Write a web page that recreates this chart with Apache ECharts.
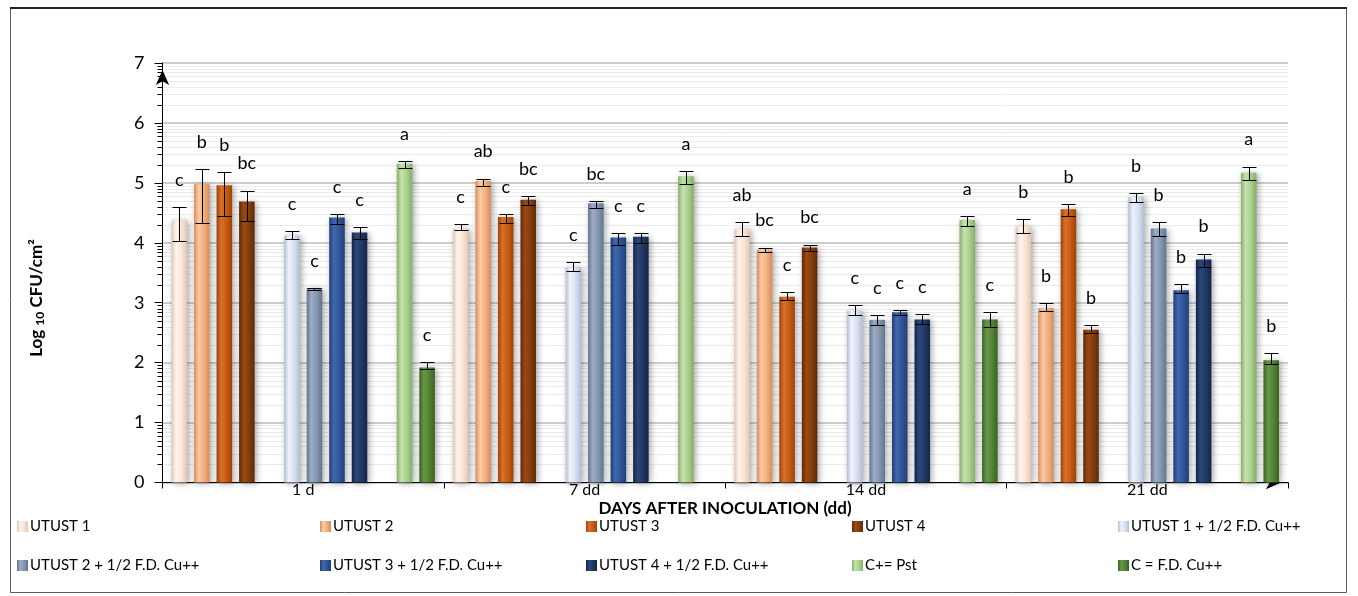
<!DOCTYPE html>
<html>
<head>
<meta charset="utf-8">
<script src="https://cdn.jsdelivr.net/npm/echarts@6/dist/echarts.min.js"></script>
<style>
  html, body { margin: 0; padding: 0; background: #ffffff; }
  #chart { width: 1358px; height: 596px; }
</style>
</head>
<body>
<div id="chart"></div>
<script>
// ---- Data: Log10 CFU/cm2 per treatment and sampling day ----
const categories = ['1 d', '7 dd', '14 dd', '21 dd'];

const seriesNames = [
  'UTUST 1', 'UTUST 2', 'UTUST 3', 'UTUST 4',
  'UTUST 1 + 1/2 F.D. Cu++', 'UTUST 2 + 1/2 F.D. Cu++',
  'UTUST 3 + 1/2 F.D. Cu++', 'UTUST 4 + 1/2 F.D. Cu++',
  'C+= Pst', 'C = F.D. Cu++'
];

// mean values
const utust1   = [4.37, 4.24, 4.23, 4.27];
const utust2   = [4.98, 5.03, 3.88, 2.91];
const utust3   = [4.96, 4.43, 3.10, 4.56];
const utust4   = [4.69, 4.72, 3.92, 2.55];
const utust1Cu = [4.12, 3.59, 2.86, 4.76];
const utust2Cu = [3.24, 4.66, 2.71, 4.24];
const utust3Cu = [4.42, 4.09, 2.84, 3.21];
const utust4Cu = [4.17, 4.10, 2.72, 3.72];
const cPos     = [5.32, 5.11, 4.38, 5.17];
const cCu      = [1.92, 0.00, 2.72, 2.04];

// error bar lower / upper bounds
const utust1Lo   = [4.03, 4.21, 4.12, 4.16], utust1Hi   = [4.59, 4.31, 4.34, 4.39];
const utust2Lo   = [4.33, 4.94, 3.85, 2.86], utust2Hi   = [5.23, 5.07, 3.92, 2.99];
const utust3Lo   = [4.45, 4.33, 3.05, 4.45], utust3Hi   = [5.18, 4.48, 3.18, 4.64];
const utust4Lo   = [4.36, 4.63, 3.86, 2.50], utust4Hi   = [4.87, 4.78, 3.97, 2.62];
const utust1CuLo = [4.07, 3.53, 2.80, 4.68], utust1CuHi = [4.20, 3.68, 2.96, 4.83];
const utust2CuLo = [3.22, 4.58, 2.63, 4.12], utust2CuHi = [3.25, 4.70, 2.80, 4.34];
const utust3CuLo = [4.32, 3.97, 2.80, 3.17], utust3CuHi = [4.48, 4.16, 2.88, 3.31];
const utust4CuLo = [4.06, 4.00, 2.65, 3.60], utust4CuHi = [4.26, 4.16, 2.81, 3.82];
const cPosLo     = [5.25, 4.98, 4.28, 5.05], cPosHi     = [5.36, 5.19, 4.45, 5.27];
const cCuLo      = [1.90, null, 2.60, 1.98], cCuHi      = [2.01, null, 2.84, 2.16];

// significance letters
const utust1Letters   = ['c', 'c', 'ab', 'b'];
const utust2Letters   = ['b', 'ab', 'bc', 'b'];
const utust3Letters   = ['b', 'c', 'c', 'b'];
const utust4Letters   = ['bc', 'bc', 'bc', 'b'];
const utust1CuLetters = ['c', 'c', 'c', 'b'];
const utust2CuLetters = ['c', 'bc', 'c', 'b'];
const utust3CuLetters = ['c', 'c', 'c', 'b'];
const utust4CuLetters = ['c', 'c', 'c', 'b'];
const cPosLetters     = ['a', 'a', 'a', 'a'];
const cCuLetters      = ['c', '', 'c', 'b'];

const yTicks = [0, 1, 2, 3, 4, 5, 6, 7];

// ---- Styling ----
const FONT = 'Lato, "Open Sans", "DejaVu Sans", sans-serif';
// [edge, highlight, base]
const palette = [
  ['#e2c6b3', '#fff4ec', '#fbe3d3'],
  ['#d38e5e', '#fbcaa4', '#f2ae7e'],
  ['#9c430a', '#d9702a', '#c55a11'],
  ['#5e2a07', '#9a4a14', '#843c0c'],
  ['#b3bfd6', '#eef3fb', '#d6e0f2'],
  ['#627490', '#9cadc4', '#8396af'],
  ['#1f3f75', '#4069ad', '#2f5597'],
  ['#122647', '#2b4878', '#1f3864'],
  ['#86ad6b', '#c4e3ae', '#a8d08c'],
  ['#3b6122', '#679846', '#548235']
];

const values  = [utust1, utust2, utust3, utust4, utust1Cu, utust2Cu, utust3Cu, utust4Cu, cPos, cCu];
const lows    = [utust1Lo, utust2Lo, utust3Lo, utust4Lo, utust1CuLo, utust2CuLo, utust3CuLo, utust4CuLo, cPosLo, cCuLo];
const highs   = [utust1Hi, utust2Hi, utust3Hi, utust4Hi, utust1CuHi, utust2CuHi, utust3CuHi, utust4CuHi, cPosHi, cCuHi];
const letters = [utust1Letters, utust2Letters, utust3Letters, utust4Letters, utust1CuLetters,
                 utust2CuLetters, utust3CuLetters, utust4CuLetters, cPosLetters, cCuLetters];

// slot of each treatment inside a day group (slots 4 and 9 are spacers)
const slots = [0, 1, 2, 3, 5, 6, 7, 8, 10, 11];
const SLOTS = 12;
const CAT_GAP = 0.064;
const BAR_GAP = 0.45;

function barGradient(p) {
  return new echarts.graphic.LinearGradient(0, 0, 1, 0, [
    { offset: 0, color: p[0] },
    { offset: 0.3, color: p[1] },
    { offset: 0.65, color: p[2] },
    { offset: 1, color: p[0] }
  ]);
}

const series = [];
let treatment = 0;
for (let s = 0; s < SLOTS; s++) {
  if (slots.indexOf(s) < 0) {
    series.push({ type: 'bar', name: '', data: categories.map(() => '-'), silent: true });
    continue;
  }
  const i = treatment++;
  series.push({
    type: 'bar',
    name: seriesNames[i],
    data: values[i],
    z: 3,
    itemStyle: {
      color: barGradient(palette[i]),
      shadowBlur: 6,
      shadowOffsetX: 2,
      shadowOffsetY: 1,
      shadowColor: 'rgba(0,0,0,0.35)'
    }
  });
}

// error bars and letters
const errItems = [];
for (let i = 0; i < values.length; i++) {
  for (let c = 0; c < categories.length; c++) {
    errItems.push({ cat: c, slot: slots[i], lo: lows[i][c], hi: highs[i][c], top: highs[i][c] != null ? highs[i][c] : values[i][c], letter: letters[i][c] });
  }
}

series.push({
  type: 'custom',
  name: 'errors',
  z: 10,
  silent: true,
  data: errItems.map(d => [d.cat, d.top]),
  renderItem: function (params, api) {
    const it = errItems[params.dataIndex];
    const band = api.size([1, 0])[0];
    const barW = band * (1 - CAT_GAP) / (SLOTS + (SLOTS - 1) * BAR_GAP);
    const step = barW * (1 + BAR_GAP);
    const cx = api.coord([it.cat, 0])[0] + (it.slot - (SLOTS - 1) / 2) * step;
    const children = [];
    const st = { stroke: '#000', lineWidth: 1 };
    const yTop = api.coord([it.cat, it.top])[1];
    if (it.hi != null) {
      const yH = Math.round(api.coord([it.cat, it.hi])[1]) + 0.5;
      const yL = Math.round(api.coord([it.cat, it.lo])[1]) + 0.5;
      const xc = Math.round(cx) + 0.5;
      children.push({ type: 'line', shape: { x1: xc, y1: yH, x2: xc, y2: yL }, style: st });
      children.push({ type: 'line', shape: { x1: xc - 7, y1: yH, x2: xc + 7, y2: yH }, style: st });
      children.push({ type: 'line', shape: { x1: xc - 7, y1: yL, x2: xc + 7, y2: yL }, style: st });
    }
    if (it.letter) {
      children.push({
        type: 'text',
        style: { text: it.letter, x: cx, y: yTop - 27, align: 'center', verticalAlign: 'middle',
                 fontSize: 18, fontFamily: FONT, fill: '#000' }
      });
    }
    return { type: 'group', children: children };
  }
});

// light minor grid lines and minor ticks between integer gridlines
const minorLevels = [];
for (let n = 0; n < 7; n++) {
  for (let k = 2; k <= 9; k++) minorLevels.push(n + Math.log10(k));
}
series.push({
  type: 'custom',
  name: 'minorGrid',
  z: 0,
  silent: true,
  data: minorLevels.map(v => [0, v]),
  renderItem: function (params, api) {
    const cs = params.coordSys;
    const y = Math.round(api.coord([0, api.value(1)])[1]) + 0.5;
    return {
      type: 'group',
      children: [
        { type: 'line', shape: { x1: cs.x, y1: y, x2: cs.x + cs.width, y2: y }, style: { stroke: '#ebebeb', lineWidth: 1 } },
        { type: 'line', shape: { x1: cs.x - 5, y1: y, x2: cs.x, y2: y }, style: { stroke: '#000', lineWidth: 1 } }
      ]
    };
  }
});

// legend: five columns of two rows
const legendCols = [17, 320, 586, 852, 1118];
const legends = legendCols.map((x, i) => ({
  orient: 'vertical',
  left: x,
  top: 519,
  itemGap: 24,
  itemWidth: 11,
  itemHeight: 11,
  padding: 0,
  selectedMode: false,
  icon: 'rect',
  data: [seriesNames[i], seriesNames[i + 5]],
  textStyle: { fontSize: 15, fontFamily: FONT, color: '#000', padding: [0, 0, 0, -3] }
}));

const chart = echarts.init(document.getElementById('chart'), null, { renderer: 'canvas' });
chart.setOption({
  animation: false,
  backgroundColor: '#ffffff',
  grid: { left: 162.5, right: 70, top: 63, bottom: 113.5, containLabel: false },
  legend: legends,
  xAxis: {
    type: 'category',
    data: categories,
    axisLine: { lineStyle: { color: '#000', width: 1 }, symbol: ['none', 'arrow'], symbolSize: [10, 15], symbolOffset: [0, -7] },
    axisTick: { show: true, length: 6, lineStyle: { color: '#000' } },
    axisLabel: { fontSize: 16, fontFamily: FONT, color: '#000', margin: -1 },
    splitLine: { show: false }
  },
  yAxis: {
    type: 'value',
    min: yTicks[0],
    max: yTicks[yTicks.length - 1],
    interval: 1,
    axisLine: { show: true, lineStyle: { color: '#000', width: 1 }, symbol: ['none', 'arrow'], symbolSize: [10, 15], symbolOffset: [0, -7] },
    axisTick: { show: true, length: 8, lineStyle: { color: '#000' } },
    axisLabel: { fontSize: 18, fontFamily: FONT, color: '#000', margin: 18 },
    splitLine: { show: true, lineStyle: { color: '#bdbdbd', width: 1.5 } }
  },
  barCategoryGap: (CAT_GAP * 100) + '%',
  barGap: (BAR_GAP * 100) + '%',
  series: series,
  graphic: [
    {
      type: 'rect',
      silent: true,
      shape: { x: 10.5, y: 8.5, width: 1336, height: 584 },
      style: { fill: 'none', stroke: '#5a5a5a', lineWidth: 1 }
    },
    {
      type: 'line',
      silent: true,
      shape: { x1: 10, y1: 8, x2: 1347, y2: 8 },
      style: { stroke: '#222', lineWidth: 2 }
    },
    {
      type: 'text',
      silent: true,
      x: 725,
      y: 509,
      style: {
        text: 'DAYS AFTER INOCULATION (dd)',
        align: 'center',
        verticalAlign: 'middle',
        fontSize: 17,
        fontWeight: 'bold',
        fontFamily: FONT,
        fill: '#000'
      }
    },
    {
      type: 'text',
      silent: true,
      x: 37,
      y: 298,
      rotation: Math.PI / 2,
      style: {
        text: '{b|Log }{s|10}{b| CFU/cm²}',
        align: 'center',
        verticalAlign: 'middle',
        rich: {
          b: { fontSize: 17, fontWeight: 'bold', fontFamily: FONT, fill: '#000' },
          s: { fontSize: 12, fontWeight: 'bold', fontFamily: FONT, fill: '#000', verticalAlign: 'bottom', padding: [6, 0, 0, 0] }
        }
      }
    }
  ]
});
</script>
</body>
</html>
